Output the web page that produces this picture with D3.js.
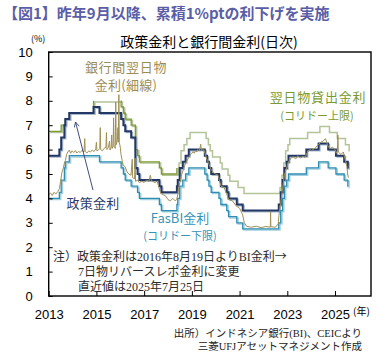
<!DOCTYPE html>
<html>
<head>
<meta charset="utf-8">
<script src="https://cdn.jsdelivr.net/npm/d3@7"></script>
<style>
  body { margin: 0; background: #fff; }
  svg { display: block; }
</style>
</head>
<body>
<div id="chart"></div>
<script>
// Rate change dates (policy rate / lending facility / FasBI share the same dates)
const changeDates = [
  "2013-01-01", "2013-06-13", "2013-07-11", "2013-08-29", "2013-09-12", "2013-11-12",
  "2014-11-18", "2015-02-17", "2016-01-14", "2016-02-18", "2016-03-17", "2016-06-16",
  "2016-08-19", "2016-09-22", "2016-10-20", "2017-08-22", "2017-09-22", "2018-05-17",
  "2018-05-30", "2018-06-29", "2018-08-15", "2018-09-27", "2018-11-15", "2019-07-18",
  "2019-08-22", "2019-09-19", "2019-10-24", "2020-02-20", "2020-03-19", "2020-06-18",
  "2020-07-16", "2020-11-19", "2021-02-18", "2022-08-23", "2022-09-22", "2022-10-20",
  "2022-11-17", "2022-12-22", "2023-01-19", "2023-10-19", "2024-04-24", "2024-09-18",
  "2025-01-15", "2025-05-21", "2025-07-16", "2025-07-25"
];
const policyRate = [
  5.75, 6.0, 6.5, 7.0, 7.25, 7.5, 7.75, 7.5, 7.25, 7.0, 6.75, 6.5,
  5.25, 5.0, 4.75, 4.5, 4.25, 4.5, 4.75, 5.25, 5.5, 5.75, 6.0, 5.75,
  5.5, 5.25, 5.0, 4.75, 4.5, 4.25, 4.0, 3.75, 3.5, 3.75, 4.25, 4.75,
  5.25, 5.5, 5.75, 6.0, 6.25, 6.0, 5.75, 5.5, 5.25, 5.25
];
const lendingRate = [
  6.75, 6.75, 7.0, 7.0, 7.25, 7.5, 8.0, 8.0, 7.75, 7.5, 7.25, 7.0,
  6.0, 5.75, 5.5, 5.25, 5.0, 5.25, 5.5, 6.0, 6.25, 6.5, 6.75, 6.5,
  6.25, 6.0, 5.75, 5.5, 5.25, 5.0, 4.75, 4.5, 4.25, 4.5, 5.0, 5.5,
  6.0, 6.25, 6.5, 6.75, 7.0, 6.75, 6.5, 6.25, 6.0, 6.0
];
const fasbiRate = [
  4.0, 4.25, 4.75, 5.25, 5.5, 5.75, 5.75, 5.5, 5.25, 5.0, 4.75, 4.5,
  4.5, 4.25, 4.0, 3.75, 3.5, 3.75, 4.0, 4.5, 4.75, 5.0, 5.25, 5.0,
  4.75, 4.5, 4.25, 4.0, 3.75, 3.5, 3.25, 3.0, 2.75, 3.0, 3.5, 4.0,
  4.5, 4.75, 5.0, 5.25, 5.5, 5.25, 5.0, 4.75, 4.5, 4.5
];

// Interbank overnight rate (thin line)
const ibYears = [
  2013.00, 2013.08, 2013.15, 2013.22, 2013.30, 2013.38, 2013.45, 2013.50, 2013.55, 2013.60,
  2013.66, 2013.70, 2013.75, 2013.80, 2013.86, 2013.92, 2013.98, 2014.05, 2014.12, 2014.18,
  2014.25, 2014.32, 2014.40, 2014.48, 2014.51, 2014.53, 2014.60, 2014.68, 2014.75, 2014.82,
  2014.90, 2014.97, 2015.00, 2015.02, 2015.08, 2015.14, 2015.16, 2015.18, 2015.25, 2015.32,
  2015.40, 2015.42, 2015.44, 2015.50, 2015.55, 2015.57, 2015.62, 2015.64, 2015.66, 2015.70,
  2015.72, 2015.74, 2015.79, 2015.81, 2015.83, 2015.88, 2015.90, 2015.92, 2015.94, 2015.96,
  2016.00, 2016.03, 2016.08, 2016.12, 2016.20, 2016.28, 2016.35, 2016.45, 2016.50, 2016.52,
  2016.60, 2016.62, 2016.64, 2016.72, 2016.80, 2016.90, 2017.00, 2017.10, 2017.20, 2017.26,
  2017.30, 2017.35, 2017.45, 2017.55, 2017.62, 2017.70, 2017.80, 2017.90, 2018.00, 2018.10,
  2018.20, 2018.30, 2018.36, 2018.40, 2018.45, 2018.50, 2018.55, 2018.60, 2018.65, 2018.70,
  2018.75, 2018.80, 2018.88, 2018.95, 2019.00, 2019.05, 2019.10, 2019.15, 2019.20, 2019.25,
  2019.30, 2019.35, 2019.37, 2019.40, 2019.45, 2019.50, 2019.55, 2019.60, 2019.65, 2019.72,
  2019.80, 2019.90, 2020.00, 2020.10, 2020.15, 2020.22, 2020.35, 2020.45, 2020.55, 2020.70,
  2020.85, 2021.00, 2021.12, 2021.20, 2021.30, 2021.50, 2021.70, 2021.90, 2022.10, 2022.29,
  2022.30, 2022.31, 2022.50, 2022.62, 2022.65, 2022.72, 2022.80, 2022.88, 2022.97, 2023.05,
  2023.15, 2023.25, 2023.35, 2023.45, 2023.55, 2023.65, 2023.75, 2023.82, 2023.90, 2024.00,
  2024.10, 2024.20, 2024.30, 2024.40, 2024.50, 2024.60, 2024.65, 2024.72, 2024.80, 2024.90,
  2025.00, 2025.05, 2025.10, 2025.12, 2025.14, 2025.25, 2025.35, 2025.40, 2025.45, 2025.50,
  2025.53, 2025.56
];
const ibRates = [
  4.15, 4.22, 4.12, 4.25, 4.18, 4.28, 4.40, 4.70, 5.05, 5.20,
  5.45, 5.55, 5.80, 5.90, 5.98, 5.85, 5.95, 5.88, 5.96, 5.86,
  5.93, 5.88, 5.97, 5.90, 6.45, 5.92, 5.86, 5.95, 5.90, 5.98,
  5.92, 6.02, 6.30, 5.95, 5.98, 6.05, 6.90, 6.00, 5.95, 6.05,
  6.10, 6.70, 6.00, 6.08, 6.35, 5.98, 6.10, 6.60, 6.05, 6.15,
  7.30, 6.10, 6.05, 7.95, 6.20, 6.40, 6.90, 6.30, 8.25, 6.30,
  6.10, 5.80, 5.55, 5.35, 5.30, 5.10, 5.00, 4.95, 5.60, 4.85,
  4.80, 5.65, 4.70, 4.75, 4.65, 4.70, 4.65, 4.75, 4.70, 4.95,
  4.75, 4.70, 4.65, 4.70, 4.45, 4.20, 4.15, 4.10, 3.95, 3.90,
  4.00, 3.90, 3.95, 4.10, 4.45, 4.65, 4.90, 5.05, 5.20, 5.35,
  5.45, 5.55, 5.70, 5.80, 5.85, 5.92, 5.85, 5.95, 5.90, 6.00,
  5.95, 6.10, 6.22, 5.95, 6.05, 6.00, 5.85, 5.70, 5.55, 5.40,
  5.20, 5.05, 5.00, 4.95, 4.75, 4.50, 4.45, 4.20, 3.95, 3.90,
  3.70, 3.60, 3.35, 3.00, 2.85, 2.82, 2.86, 2.80, 2.85, 2.82,
  3.45, 2.84, 2.82, 2.95, 3.30, 3.80, 4.40, 4.95, 5.25, 5.50,
  5.65, 5.70, 5.62, 5.75, 5.65, 5.72, 5.68, 5.85, 5.95, 6.05,
  6.00, 6.10, 6.20, 6.30, 6.35, 6.45, 6.30, 6.10, 6.05, 6.10,
  6.00, 5.85, 5.95, 6.60, 5.90, 5.80, 5.90, 5.70, 5.50, 5.30,
  5.00, 4.85
];

const yTicks = [0, 1, 2, 3, 4, 5, 6, 7, 8, 9, 10];
const xTicks = [2013, 2015, 2017, 2019, 2021, 2023, 2025];

// Convert "YYYY-MM-DD" to a decimal year
function toYear(s) {
  const d = new Date(s + "T00:00:00Z");
  const yr = d.getUTCFullYear();
  const start = Date.UTC(yr, 0, 1), end = Date.UTC(yr + 1, 0, 1);
  return yr + (d - start) / (end - start);
}

const W = 377, H = 354;
const plotL = 48.7, plotR = 371, plotT = 52, plotB = 296;

const svg = d3.select("#chart").append("svg")
  .attr("width", W).attr("height", H)
  .style("font-family", "'Noto Sans CJK JP', sans-serif");

const x = d3.scaleLinear()
  .domain([2013, 2013 + (plotR - plotL) / 23.86])
  .range([plotL, plotR]);
const y = d3.scaleLinear().domain([0, 10]).range([plotB, plotT]);

const steps = changeDates.map((d, i) => ({
  t: toYear(d), policy: policyRate[i], lending: lendingRate[i], fasbi: fasbiRate[i]
}));
const interbank = ibYears.map((t, i) => ({ t: t, v: ibRates[i] }));

const stepLine = key => d3.line()
  .x(d => x(d.t)).y(d => y(d[key]))
  .curve(d3.curveStepAfter);

const plot = svg.append("g");

// light companions, drawn slightly offset behind each step line
const halo = plot.append("g").attr("transform", "translate(1.3,1.2)");
halo.append("path").datum(steps).attr("d", stepLine("lending"))
  .attr("fill", "none").attr("stroke", "#b3c498").attr("stroke-width", 1.5);
halo.append("path").datum(steps).attr("d", stepLine("fasbi"))
  .attr("fill", "none").attr("stroke", "#a3d0e0").attr("stroke-width", 1.5);
halo.append("path").datum(steps).attr("d", stepLine("policy"))
  .attr("fill", "none").attr("stroke", "#a9b9cc").attr("stroke-width", 1.6);

// lending facility, darker olive in the earlier years
const oliveLine = d3.line()
  .defined(d => (d.t < 2014.88) || (d.t >= 2015.99 && d.t < 2018.38))
  .x(d => x(d.t)).y(d => y(d.lending))
  .curve(d3.curveStepAfter);
const lendingPts = [];
steps.forEach((d, i) => {
  lendingPts.push(d);
  if (i < steps.length - 1) lendingPts.push({ t: steps[i + 1].t - 0.0001, lending: d.lending });
});
plot.append("path").datum(lendingPts).attr("d", oliveLine)
  .attr("fill", "none").attr("stroke", "#7d9a34").attr("stroke-width", 1.3);

plot.append("path").datum(steps).attr("d", stepLine("fasbi"))
  .attr("fill", "none").attr("stroke", "#2f8db2").attr("stroke-width", 1.3);

plot.append("path").datum(steps).attr("d", stepLine("policy"))
  .attr("fill", "none").attr("stroke", "#243866").attr("stroke-width", 2);

plot.append("path").datum(interbank)
  .attr("d", d3.line().x(d => x(d.t)).y(d => y(d.v)))
  .attr("fill", "none").attr("stroke", "#a08f55").attr("stroke-width", 1);

// axes (ticks point inward)
const yAxis = svg.append("g")
  .attr("transform", `translate(${plotL},0)`)
  .call(d3.axisLeft(y).tickValues(yTicks).tickSize(-4).tickPadding(16));
const xAxis = svg.append("g")
  .attr("transform", `translate(0,${plotB})`)
  .call(d3.axisBottom(x).tickValues(xTicks).tickSize(-5).tickPadding(14).tickFormat(d3.format("d")));
[yAxis, xAxis].forEach(a => {
  a.select(".domain").remove();
  a.selectAll("line").attr("stroke", "#000").attr("stroke-width", 1);
  a.selectAll("text").attr("fill", "#000")
    .style("font-family", "'Liberation Sans', Arial, sans-serif").style("font-size", "13px");
});

svg.append("rect")
  .attr("x", plotL).attr("y", plotT)
  .attr("width", plotR - plotL).attr("height", plotB - plotT)
  .attr("fill", "none").attr("stroke", "#000").attr("stroke-width", 1.4);

// titles
svg.append("text").attr("x", 3).attr("y", 19)
  .attr("fill", "#5b5ea6").style("font-size", "15px").style("font-weight", "700")
  .text("【図1】昨年9月以降、累積1%ptの利下げを実施");
svg.append("text").attr("x", 209).attr("y", 47).attr("text-anchor", "middle")
  .attr("fill", "#000").style("font-size", "14px")
  .text("政策金利と銀行間金利(日次)");
svg.append("text").attr("x", 31).attr("y", 42).attr("fill", "#000")
  .style("font-size", "9px").text("(%)");
svg.append("text").attr("x", 353).attr("y", 315).attr("fill", "#000")
  .style("font-size", "10px").text("(年)");

// series labels
function label(lines, color) {
  lines.forEach(l => {
    svg.append("text").attr("x", l[0]).attr("y", l[1]).attr("text-anchor", "middle")
      .attr("fill", color).style("font-size", l[3] + "px")
      .style("letter-spacing", (l[4] || 0) + "px")
      .text(l[2]);
  });
}
label([[126, 72, "銀行間翌日物", 13, 0.7], [126, 90, "金利(細線)", 13, 0.3]], "#9c8c55");
label([[318, 102, "翌日物貸出金利", 13, 0.8], [317, 119.5, "(コリドー上限)", 11, 0]], "#7a9a30");
label([[93, 208, "政策金利", 13, 0.3]], "#2c3a6a");
label([[180, 223, "FasBI金利", 13, 0], [180, 240, "(コリドー下限)", 11, 0]], "#3593b8");

// arrow to the policy rate line
svg.append("defs").append("marker")
  .attr("id", "arr").attr("viewBox", "0 0 10 10").attr("refX", 9).attr("refY", 5)
  .attr("markerWidth", 7).attr("markerHeight", 7).attr("orient", "auto")
  .append("path").attr("d", "M1,1 L9,5 L1,9").attr("fill", "none")
  .attr("stroke", "#2c3a6a").attr("stroke-width", 1.2);
svg.append("line").attr("x1", 93).attr("y1", 190).attr("x2", 75.5).attr("y2", 122)
  .attr("stroke", "#2c3a6a").attr("stroke-width", 0.9).attr("marker-end", "url(#arr)");

// note
const noteFont = "'Liberation Serif', 'Noto Sans CJK JP', serif";
const notes = [[53, 261, "注）政策金利は2016年8月19日よりBI金利", "→"],
  [78, 276, "7日物リバースレポ金利に変更", ""], [78, 291, "直近値は2025年7月25日", ""]];
notes.forEach(n => {
  const t = svg.append("text").attr("x", n[0]).attr("y", n[1]).attr("fill", "#2b2b2b")
    .style("font-family", noteFont).style("font-size", "12px").text(n[2]);
  if (n[3]) t.append("tspan").style("font-family", "'Noto Sans CJK JP', sans-serif").text(n[3]);
});

// source
[[337, "出所）インドネシア銀行(BI)、CEICより"], [350, "三菱UFJアセットマネジメント作成"]].forEach(s => {
  svg.append("text").attr("x", 362).attr("y", s[0]).attr("text-anchor", "end")
    .attr("fill", "#222").style("font-family", noteFont).style("font-size", "10.5px").text(s[1]);
});
</script>
</body>
</html>
